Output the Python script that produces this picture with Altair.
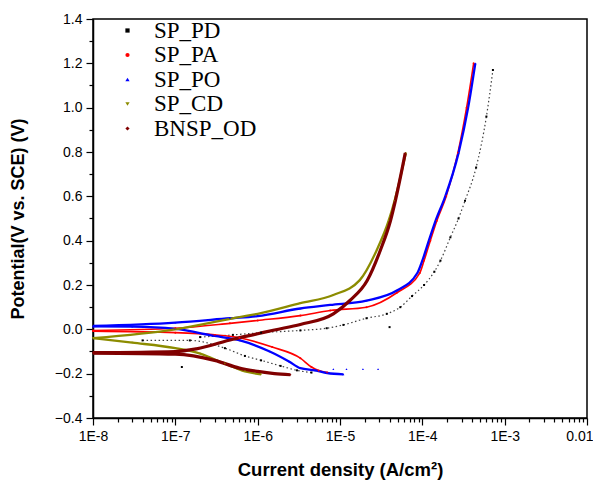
import altair as alt
import pandas as pd

series = ["SP_PD", "SP_PA", "SP_PO", "SP_CD", "BNSP_OD"]
colors = ["#000000", "#ff0000", "#0000ff", "#8c8c00", "#800000"]
shapes = ["square", "circle", "triangle-up", "triangle-down", "diamond"]

# ---- SP_PD (black) ----
pd_cat_i = [4e-8, 1.5e-7, 4e-7, 7e-7, 1.1e-6, 1.9e-6, 3e-6, 4.5e-6]
pd_cat_E = [-0.05, -0.05, -0.085, -0.12, -0.14, -0.165, -0.185, -0.195]
pd_an_i = [2e-7, 5e-7, 1.1e-6, 3.3e-6, 6.9e-6, 1.1e-5, 2.1e-5, 3.7e-5, 5.4e-5, 7.5e-5,
           1.05e-4, 1.4e-4, 1.66e-4, 2.19e-4, 2.75e-4, 3.3e-4, 4.5e-4, 6.0e-4, 7.2e-4]
pd_an_E = [-0.035, -0.025, -0.015, -0.005, 0.005, 0.02, 0.05, 0.07, 0.1, 0.15,
           0.2, 0.26, 0.31, 0.415, 0.5, 0.58, 0.73, 0.96, 1.17]
pd_pts_i = [1.2e-7, 4e-5]
pd_pts_E = [-0.17, 0.01]

# ---- SP_PA (red) ----
pa_cat_i = [1e-8, 1e-7, 3e-7, 6e-7, 1.5e-6, 3.3e-6, 4.5e-6, 5.5e-6, 7e-6]
pa_cat_E = [-0.008, -0.015, -0.025, -0.038, -0.08, -0.13, -0.17, -0.186, -0.195]
pa_an_i = [1e-8, 1e-7, 4.6e-7, 1e-6, 3.3e-6, 7.6e-6, 2.1e-5, 4.9e-5, 9.3e-5, 1.05e-4,
           1.25e-4, 1.5e-4, 1.95e-4, 2.7e-4, 3.45e-4, 4.2e-4]
pa_an_E = [-0.005, 0.005, 0.027, 0.04, 0.062, 0.085, 0.1, 0.165, 0.254, 0.31,
           0.40, 0.49, 0.6, 0.795, 1.0, 1.2]

# ---- SP_PO (blue) ----
po_cat_i = [1e-8, 3e-8, 1e-7, 3e-7, 6.1e-7, 1.4e-6, 2.4e-6, 3.3e-6, 5e-6, 7e-6, 1.1e-5]
po_cat_E = [0.013, 0.012, 0.002, -0.03, -0.05, -0.1, -0.145, -0.175, -0.185, -0.197, -0.203]
po_an_i = [1e-8, 1e-7, 4.6e-7, 1e-6, 3.3e-6, 7.6e-6, 2.1e-5, 4.9e-5, 8.7e-5, 1.0e-4,
           1.2e-4, 1.45e-4, 1.9e-4, 2.75e-4, 3.6e-4, 4.4e-4]
po_an_E = [0.015, 0.03, 0.05, 0.06, 0.094, 0.11, 0.13, 0.175, 0.254, 0.31,
           0.40, 0.49, 0.6, 0.795, 1.0, 1.2]
po_pts_i = [8.3e-6, 1.2e-5, 1.9e-5, 2.9e-5]
po_pts_E = [-0.18, -0.18, -0.18, -0.18]

# ---- SP_CD (olive) ----
cd_cat_i = [1e-8, 3e-8, 1e-7, 2e-7, 4e-7, 7e-7, 1.1e-6]
cd_cat_E = [-0.04, -0.06, -0.085, -0.11, -0.155, -0.19, -0.203]
cd_an_i = [1e-8, 1e-7, 6e-7, 1e-6, 3.3e-6, 8.3e-6, 1.74e-5, 2.8e-5, 3.9e-5, 4.6e-5, 6.3e-5]
cd_an_E = [-0.04, 0.0, 0.055, 0.07, 0.118, 0.155, 0.222, 0.358, 0.49, 0.58, 0.795]

# ---- BNSP_OD (dark red) ----
od_cat_i = [1e-8, 1e-7, 3e-7, 6e-7, 1e-6, 1.6e-6, 2.5e-6]
od_cat_E = [-0.107, -0.112, -0.14, -0.175, -0.19, -0.2, -0.205]
od_an_i = [1e-8, 1e-7, 1.8e-7, 5e-7, 1e-6, 1.6e-6, 3.3e-6, 8.3e-6, 1.32e-5, 2.14e-5,
           3.1e-5, 4.1e-5, 4.7e-5, 6.2e-5]
od_an_E = [-0.105, -0.1, -0.088, -0.045, -0.02, -0.003, 0.022, 0.07, 0.13, 0.22,
           0.358, 0.49, 0.58, 0.795]

x_major = [1e-8, 1e-7, 1e-6, 1e-5, 1e-4, 1e-3, 1e-2]
x_labels = ["1E-8", "1E-7", "1E-6", "1E-5", "1E-4", "1E-3", "0.01"]

branches = {
    "SP_PD": [(pd_cat_i, pd_cat_E), (pd_an_i, pd_an_E)],
    "SP_PA": [(pa_cat_i, pa_cat_E), (pa_an_i, pa_an_E)],
    "SP_PO": [(po_cat_i, po_cat_E), (po_an_i, po_an_E)],
    "SP_CD": [(cd_cat_i, cd_cat_E), (cd_an_i, cd_an_E)],
    "BNSP_OD": [(od_cat_i, od_cat_E), (od_an_i, od_an_E)],
}
extra = {"SP_PD": (pd_pts_i, pd_pts_E), "SP_PO": (po_pts_i, po_pts_E)}

rows = []
for s, brs in branches.items():
    for b, (ii, ee) in enumerate(brs):
        for k, (i, e) in enumerate(zip(ii, ee)):
            rows.append({"series": s, "branch": f"{s}_{b}", "order": k, "i": i, "E": e})
df = pd.DataFrame(rows)
prow = list(rows)
for s, (ii, ee) in extra.items():
    for i, e in zip(ii, ee):
        prow.append({"series": s, "branch": s + "_x", "order": 0, "i": i, "E": e})
dfp = pd.DataFrame(prow)

# tick setup
x_minor = [k * v for v in x_major[:-1] for k in range(1, 10)] + [x_major[-1]]
x_expr = "''"
for v, lab in zip(x_major, x_labels):
    x_expr = f"abs(datum.value - {v}) < {v * 0.01} ? '{lab}' : ({x_expr})"
x_test = "abs(log(datum.value)/LN10 - round(log(datum.value)/LN10)) < 0.01"
x_last = f"datum.value > {x_major[-1] * 0.5}"
y_all = [round(-0.4 + 0.1 * k, 1) for k in range(19)]
y_test = "abs(datum.value*5 - round(datum.value*5)) < 0.01"

xenc = alt.X("i:Q", scale=alt.Scale(type="log", domain=[1e-8, 1e-2]),
             axis=alt.Axis(values=x_minor, labelExpr=x_expr, labelFlush=False,
                           labelAlign={"condition": {"test": x_last, "value": "right"},
                                       "value": "center"},
                           labelOffset={"condition": {"test": x_last, "value": 6},
                                        "value": 0},
                           tickSize={"condition": {"test": x_test, "value": 7}, "value": 4},
                           title="Current density (A/cm²)", grid=False,
                           labelPadding=4, titlePadding=17))
yenc = alt.Y("E:Q", scale=alt.Scale(domain=[-0.4, 1.4], nice=False),
             axis=alt.Axis(values=y_all, labelFlush=False,
                           labelExpr=f"{y_test} ? format(datum.value, '.1f') : ''",
                           tickSize={"condition": {"test": y_test, "value": 7}, "value": 4},
                           title="Potential(V vs. SCE) (V)", grid=False,
                           labelPadding=4, titlePadding=27))

width_map = {"SP_PD": 1.2, "SP_PA": 1.6, "SP_PO": 2.3, "SP_CD": 2.3, "BNSP_OD": 3.2}
layers = []
for s, c in zip(series, colors):
    kw = {}
    if s == "SP_PD":
        kw["strokeDash"] = [1.5, 2.5]
        kw["opacity"] = 0.75
    layers.append(
        alt.Chart(df[df.series == s]).mark_line(interpolate="monotone", color=c,
                                                 strokeWidth=width_map[s], **kw)
        .encode(x=xenc, y=yenc, detail="branch:N", order="order:Q")
    )

pts = alt.Chart(dfp).mark_point(filled=True, size=4, opacity=1).encode(
    x=xenc, y=yenc,
    color=alt.Color("series:N", scale=alt.Scale(domain=series, range=colors),
                    legend=alt.Legend(title=None, orient="none", legendX=23, legendY=0)),
    shape=alt.Shape("series:N", scale=alt.Scale(domain=series, range=shapes),
                    legend=alt.Legend(title=None, orient="none", legendX=23, legendY=0)),
)

chart = alt.layer(*layers, pts).properties(
    width=494, height=399,
    autosize=alt.AutoSizeParams(type="none"),
    padding={"left": 85, "top": 11, "right": 6, "bottom": 62},
).configure_view(stroke="black", strokeWidth=1.5).configure_axis(
    domainColor="black", domainWidth=1.5, tickColor="black", tickWidth=1.2,
    labelFont="Liberation Sans", labelFontSize=14, labelColor="black",
    titleFont="Liberation Sans", titleFontWeight="bold", titleColor="black",
).configure_axisX(titleFontSize=18.5).configure_axisY(titleFontSize=18).configure_legend(
    labelFont="Liberation Serif", labelFontSize=23, labelColor="black",
    symbolSize=18, symbolStrokeWidth=0, rowPadding=0.5, labelOffset=15, padding=0,
    symbolOpacity=1,
)

chart.save("out.html", embed_options={"renderer": "svg", "actions": False})
